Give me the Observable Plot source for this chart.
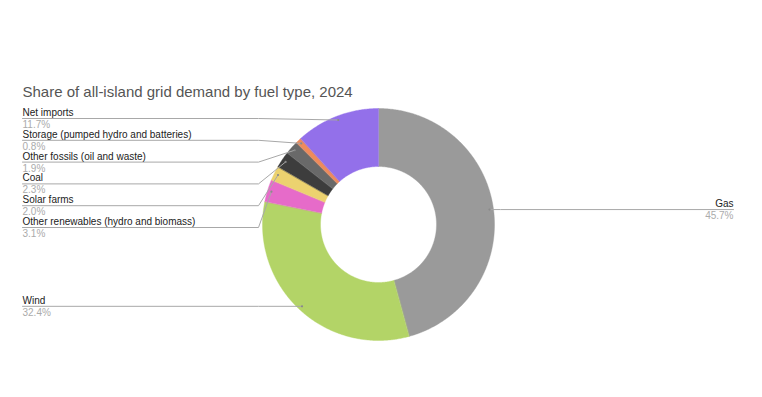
<!DOCTYPE html>
<html>
<head>
<meta charset="utf-8">
<script src="https://cdn.jsdelivr.net/npm/d3@7"></script>
<script src="https://cdn.jsdelivr.net/npm/@observablehq/plot@0.6"></script>
<style>
  html, body { margin: 0; padding: 0; background: #fff; }
  #chart svg { display: block; }
</style>
</head>
<body>
<div id="chart"></div>
<script>
// ---- data ----
const title = "Share of all-island grid demand by fuel type, 2024";
const fuels = [
  "Gas",
  "Wind",
  "Other renewables (hydro and biomass)",
  "Solar farms",
  "Coal",
  "Other fossils (oil and waste)",
  "Storage (pumped hydro and batteries)",
  "Net imports"
];
const shares = [45.7, 32.4, 3.1, 2.0, 2.3, 1.9, 0.8, 11.7];
const colors = ["#9a9a9a", "#b3d467", "#e66bc9", "#ecd26f", "#3d3d3d", "#696969", "#ef8b5b", "#9370ea"];

// ---- layout ----
const W = 762, H = 397;
const CX = 378, CY = 224, R = 116, RI = 58, RDOT = 112;
const LEFT_X = 22, RIGHT_X = 733, ELBOW_L = 258, ELBOW_R = 500;
const TOP_Y = 118, GAP = 21.8;

const total = d3.sum(shares);
let cum = 0;
const slices = fuels.map((name, i) => {
  const a0 = cum / total * 2 * Math.PI;
  cum += shares[i];
  const a1 = cum / total * 2 * Math.PI;
  const am = (a0 + a1) / 2;
  return {name, value: shares[i], a0, a1, am,
    dx: CX + RDOT * Math.sin(am), dy: CY - RDOT * Math.cos(am)};
});

// polygon points for each ring sector
const ringPts = [];
for (const s of slices) {
  const n = Math.max(2, Math.ceil((s.a1 - s.a0) / (Math.PI / 360)));
  for (let k = 0; k <= n; k++) {
    const a = s.a0 + (s.a1 - s.a0) * k / n;
    ringPts.push({name: s.name, x: CX + R * Math.sin(a), y: CY - R * Math.cos(a)});
  }
  for (let k = n; k >= 0; k--) {
    const a = s.a0 + (s.a1 - s.a0) * k / n;
    ringPts.push({name: s.name, x: CX + RI * Math.sin(a), y: CY - RI * Math.cos(a)});
  }
}

// labels
const right = slices.filter(s => s.am < Math.PI);
const left = slices.filter(s => s.am >= Math.PI).sort((a, b) => a.dy - b.dy);
const leftLabels = [];
let prev = null;
for (const s of left) {
  let y;
  if (prev === null) y = TOP_Y;
  else y = (s.dy > prev + 2 * GAP) ? s.dy : prev + GAP;
  prev = y;
  leftLabels.push({...s, side: "left", ly: y, lx: LEFT_X});
}
const rightLabels = right.map(s => ({...s, side: "right", ly: s.dy, lx: RIGHT_X}));
const labels = leftLabels.concat(rightLabels);

const leaderPts = [];
for (const l of labels) {
  leaderPts.push({name: l.name, x: l.lx, y: l.ly});
  if (l.side === "left") leaderPts.push({name: l.name, x: Math.min(ELBOW_L, l.dx), y: l.ly});
  else leaderPts.push({name: l.name, x: Math.max(ELBOW_R, l.dx), y: l.ly});
  leaderPts.push({name: l.name, x: l.dx, y: l.dy});
}

const font = "'Liberation Sans', Arial, Helvetica, sans-serif";
const nameOpts = {x: "lx", y: d => d.ly - 2.5, text: "name", lineAnchor: "bottom", fontSize: 10, fill: "#222"};
const valOpts = {x: "lx", y: d => d.ly + 9.5, text: d => d.value.toFixed(1) + "%", lineAnchor: "bottom", fontSize: 10, fill: "#ababab"};

const chart = Plot.plot({
  width: W,
  height: H,
  margin: 0,
  x: {domain: [0, W], range: [0, W], axis: null},
  y: {domain: [0, H], range: [0, H], axis: null},
  color: {domain: fuels, range: colors},
  style: {fontFamily: font, background: "#fff"},
  marks: [
    Plot.line(ringPts, {x: "x", y: "y", z: "name", fill: "name", stroke: "name",
      strokeWidth: 0.4, curve: "linear-closed"}),
    Plot.line(leaderPts, {x: "x", y: "y", z: "name", stroke: "#a8a8a8", strokeWidth: 1, curve: "linear"}),
    Plot.dot(labels, {x: "dx", y: "dy", r: 1.1, fill: "#8a8a8a"}),
    Plot.text(leftLabels, {...nameOpts, textAnchor: "start"}),
    Plot.text(leftLabels, {...valOpts, textAnchor: "start"}),
    Plot.text(rightLabels, {...nameOpts, textAnchor: "end"}),
    Plot.text(rightLabels, {...valOpts, textAnchor: "end"}),
    Plot.text([title], {x: LEFT_X, y: 96, text: d => d, lineAnchor: "bottom", textAnchor: "start",
      fontSize: 15, fill: "#555"})
  ]
});
document.getElementById("chart").appendChild(chart);
</script>
</body>
</html>
